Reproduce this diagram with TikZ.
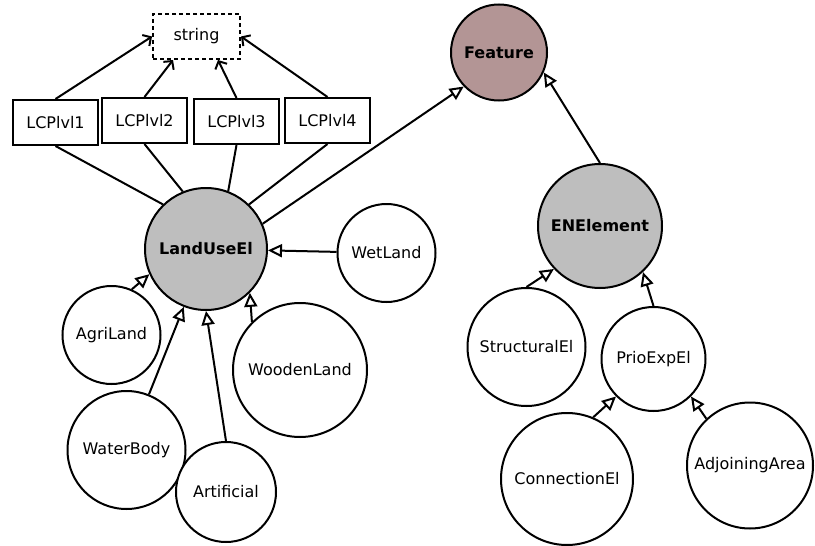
\documentclass[tikz,border=0pt]{standalone}
\usepackage{fontspec}
\setmainfont{DejaVu Sans}
\usepackage{tikz}
\usetikzlibrary{positioning,arrows.meta}

\begin{document}
\begin{tikzpicture}[x=1pt, y=-1pt,
    font=\fontsize{16}{19}\selectfont,
    every node/.style={line width=2pt},
    cls/.style={draw, circle, inner sep=0pt, fill=white},
    abscls/.style={cls, fill=absgray, font=\fontsize{16}{19}\selectfont\bfseries},
    attr/.style={draw, rectangle, inner sep=0pt, minimum width=85pt, minimum height=45pt},
    isa/.style={line width=2pt, -{Triangle[open, length=14pt, width=13pt, line width=2pt]}},
    hasa/.style={line width=2pt, -{Straight Barb[length=6pt, width=13pt, line width=2pt]}},
    link/.style={line width=2pt}]
    \definecolor{absgray}{RGB}{190,190,190}
    \definecolor{featbrown}{RGB}{179,149,149}
    \useasboundingbox (0,0) rectangle (815,546);

    % top types
    \node [draw, dash pattern=on 4pt off 3pt, inner sep=0pt, minimum width=87pt, minimum height=45pt] (string) at (196.5,36.5) {string};
    \node [abscls, fill=featbrown, minimum size=96pt] (feature) at (499,52.5) {Feature};

    % land use part
    \node [attr] (lcp1) at (55.5,122.5) {LCPlvl1};
    \node [attr] (lcp2) at (144.5,120.5) {LCPlvl2};
    \node [attr] (lcp3) at (236.5,121.5) {LCPlvl3};
    \node [attr] (lcp4) at (327.5,120.5) {LCPlvl4};
    \node [abscls, minimum size=122pt] (landuse) at (206,249) {LandUseEl};
    \node [cls, minimum size=98pt] (wetland) at (386.5,253) {WetLand};
    \node [cls, minimum size=98pt] (agriland) at (111.5,335) {AgriLand};
    \node [cls, minimum size=134pt] (wooden) at (300,370) {WoodenLand};
    \node [cls, minimum size=118pt] (water) at (126.5,450) {WaterBody};
    \node [cls, minimum size=100pt] (artificial) at (226,492) {Artificial};

    % environment part
    \node [abscls, minimum size=124pt] (enelement) at (600,226) {ENElement};
    \node [cls, minimum size=118pt] (structural) at (526.5,347) {StructuralEl};
    \node [cls, minimum size=104pt] (prioexp) at (653.5,359) {PrioExpEl};
    \node [cls, minimum size=132pt] (connection) at (567,479) {ConnectionEl};
    \node [cls, minimum size=126pt] (adjoining) at (750,465.5) {AdjoiningArea};

    \draw [hasa] (lcp1.north) -- (string.west);
    \draw [hasa] (lcp2.north) -- ([xshift=-23.5pt]string.south);
    \draw [hasa] (lcp3.north) -- ([xshift=21.5pt]string.south);
    \draw [hasa] (lcp4.north) -- (string.east);

    \draw [link] (lcp1.south) -- (landuse.134);
    \draw [link] (lcp2.south) -- (landuse.112);
    \draw [link] (lcp3.south) -- (landuse.69);
    \draw [link] (lcp4.south) -- (landuse.46);

    \draw [isa] (landuse.24) -- (feature.224);
    \draw [isa] (enelement.north) -- (feature.336);

    \draw [isa] (wetland) -- (landuse);
    \draw [isa] (agriland.66) -- (landuse.204);
    \draw [isa] (water.68) -- (landuse.249);
    \draw [isa] (artificial.north) -- (landuse.south);
    \draw [isa] (wooden.135) -- (landuse.315);

    \draw [isa] (structural.north) -- (enelement.223);
    \draw [isa] (prioexp.north) -- (enelement.313);
    \draw [isa] (connection.67) -- (prioexp.225);
    \draw [isa] (adjoining.133) -- (prioexp.315);
\end{tikzpicture}
\end{document}
